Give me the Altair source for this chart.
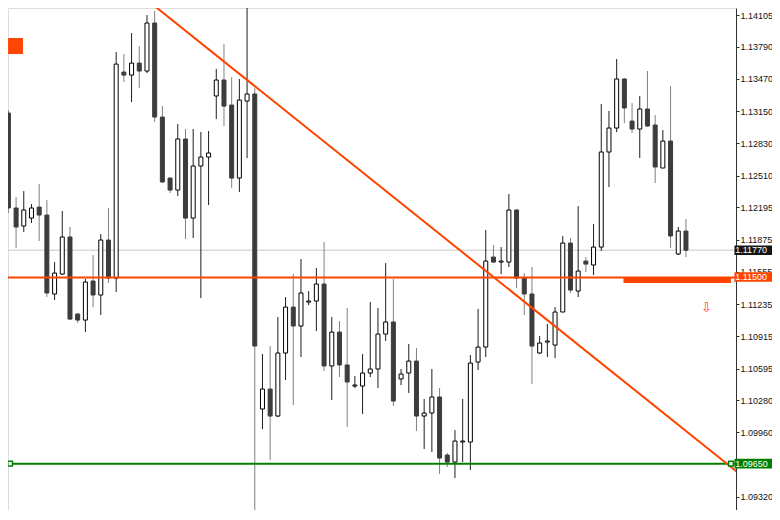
import altair as alt
import pandas as pd

# ---- candle data (price values) ----
highs = [1.13162, 1.12298, 1.12357, 1.12228, 1.12427, 1.12268, 1.11652, 1.12159, 1.12000, 1.11146,
         1.11484, 1.11722, 1.11930, 1.12189, 1.13738, 1.13718, 1.13926, 1.13797, 1.14105, 1.14145,
         1.13201, 1.12496, 1.13023, 1.12973, 1.12973, 1.12943, 1.12953, 1.13569, 1.13817, 1.13489,
         1.13470, 1.14284, 1.13380, 1.10739, 1.10818, 1.11106, 1.11305, 1.11533, 1.11682, 1.11364,
         1.11593, 1.11851, 1.11106, 1.11066, 1.11196, 1.10520, 1.10739, 1.11255, 1.11196, 1.11642,
         1.11484, 1.10590, 1.10838, 1.10798, 1.10292, 1.10590, 1.10401, 1.09756, 1.09984, 1.10292,
         1.10729, 1.11186, 1.11970, 1.11821, 1.11801, 1.12328, 1.12179, 1.11543, 1.11603, 1.10918,
         1.11037, 1.11205, 1.11911, 1.11891, 1.12208, 1.11702, 1.12030, 1.13221, 1.13152, 1.13668,
         1.13479, 1.13231, 1.13301, 1.13549, 1.13112, 1.12963, 1.13400, 1.12000, 1.12079]
opens = [1.13132, 1.12189, 1.12010, 1.12089, 1.12198, 1.12119, 1.11335, 1.11533, 1.11901, 1.11136,
         1.11076, 1.11464, 1.11325, 1.11871, 1.11493, 1.13539, 1.13509, 1.13628, 1.13549, 1.14026,
         1.13092, 1.12486, 1.12367, 1.12874, 1.12089, 1.12606, 1.12695, 1.13301, 1.13460, 1.13211,
         1.12486, 1.13251, 1.13321, 1.10193, 1.10391, 1.10123, 1.10749, 1.11205, 1.11017, 1.11255,
         1.11265, 1.11434, 1.10620, 1.10957, 1.10630, 1.10421, 1.10421, 1.10550, 1.10590, 1.10937,
         1.11057, 1.10491, 1.10550, 1.10669, 1.10123, 1.10153, 1.10312, 1.09736, 1.09666, 1.09865,
         1.09865, 1.10659, 1.10808, 1.11702, 1.11652, 1.11652, 1.12169, 1.11493, 1.11335, 1.10749,
         1.10858, 1.10828, 1.11156, 1.11841, 1.11364, 1.11662, 1.11623, 1.11801, 1.12745, 1.12983,
         1.13470, 1.13052, 1.12973, 1.13172, 1.13013, 1.12586, 1.12854, 1.11732, 1.11960]
closes = [1.12189, 1.12000, 1.12169, 1.12189, 1.12119, 1.11345, 1.11543, 1.11901, 1.11086, 1.11076,
          1.11454, 1.11325, 1.11871, 1.11493, 1.13618, 1.13509, 1.13628, 1.13549, 1.14026, 1.13092,
          1.12447, 1.12367, 1.12874, 1.12089, 1.12606, 1.12695, 1.12735, 1.13460, 1.13201, 1.12486,
          1.13261, 1.13321, 1.10818, 1.10391, 1.10123, 1.10749, 1.11205, 1.11017, 1.11345, 1.11265,
          1.11434, 1.10620, 1.10957, 1.10630, 1.10461, 1.10431, 1.10550, 1.10590, 1.10937, 1.11057,
          1.10272, 1.10540, 1.10669, 1.10123, 1.10153, 1.10312, 1.09706, 1.09666, 1.09875, 1.09875,
          1.10649, 1.10808, 1.11662, 1.11652, 1.11662, 1.12169, 1.11493, 1.11335, 1.10818, 1.10848,
          1.10868, 1.11156, 1.11841, 1.11374, 1.11563, 1.11632, 1.11801, 1.12745, 1.12983, 1.13470,
          1.13182, 1.12973, 1.13172, 1.13003, 1.12596, 1.12854, 1.11911, 1.11960, 1.11770]
lows = [1.12139, 1.11791, 1.11950, 1.12040, 1.11861, 1.11305, 1.11275, 1.11523, 1.11076, 1.11047,
        1.10957, 1.11205, 1.11126, 1.11444, 1.11354, 1.13440, 1.13241, 1.13380, 1.13529, 1.13043,
        1.12437, 1.12338, 1.12308, 1.11881, 1.11891, 1.11295, 1.12218, 1.13072, 1.13003, 1.12387,
        1.12347, 1.12685, 1.09100, 1.09994, 1.09686, 1.10113, 1.10481, 1.10232, 1.10709, 1.11225,
        1.10967, 1.10570, 1.10282, 1.10510, 1.10014, 1.10401, 1.10143, 1.10510, 1.10401, 1.10868,
        1.10222, 1.10431, 1.10352, 1.09974, 1.09795, 1.09766, 1.09547, 1.09617, 1.09507, 1.09666,
        1.09587, 1.10580, 1.10709, 1.11642, 1.11533, 1.11603, 1.11394, 1.11126, 1.10441, 1.10739,
        1.10709, 1.10699, 1.11156, 1.11345, 1.11305, 1.11553, 1.11523, 1.11762, 1.12397, 1.12943,
        1.13033, 1.12933, 1.12685, 1.12993, 1.12437, 1.12586, 1.11791, 1.11722, 1.11702]

axis_ticks = [1.14105, 1.13790, 1.13470, 1.13150, 1.12830, 1.12510, 1.12195, 1.11875,
              1.11555, 1.11235, 1.10915, 1.10595, 1.10280, 1.09960, 1.09320]
# visible window of the chart (the page margin hides the first 8 px)
price_domain = [1.09190, 1.14175]
index_domain = [0.60, 93.85]

current_price = 1.11770
resistance = 1.11500
support = 1.09650
trend_index = [17.0, 95.0]
trend_price = [1.14316, 1.09547]
seg_index = [79.89, 93.85]
seg_price = 1.11474
marker_index = [0.22, 93.85]
flag_index = [-0.04, 1.89]
flag_price = [1.13877, 1.13718]
arrow_index = 90.65
arrow_price = 1.11196

label_texts = ["1.11770", "1.11500", "1.09650"]
label_prices = [1.11770, 1.11500, 1.09650]
label_p0 = [1.11816, 1.11550, 1.09700]
label_p1 = [1.11722, 1.11456, 1.09603]
label_colors = ["#161616", "#ff4500", "#008000"]
label_box_index = [94.30, 99.6]
label_text_index = 94.40

# ---- tables ----
df = pd.DataFrame({"i": list(range(len(opens))), "open": opens, "high": highs,
                   "low": lows, "close": closes})
df["dir"] = ["up" if c >= o else "down" for o, c in zip(opens, closes)]
df["btop"] = df[["open", "close"]].max(axis=1)
df["bbot"] = df[["open", "close"]].min(axis=1)

xs = alt.Scale(domain=index_domain, nice=False, zero=False)
ys = alt.Scale(domain=price_domain, nice=False, zero=False)
LABEL_FONT = "Liberation Sans"
LABEL_SIZE = 9
yaxis = alt.Axis(orient="right", values=axis_ticks, format=".5f", title=None, grid=False,
                 tickSize=3, labelPadding=1, labelFont=LABEL_FONT, labelFontSize=LABEL_SIZE,
                 labelColor="#111111", tickColor="#303030", domainColor="#303030",
                 labelOverlap=False, labelFlush=False, zindex=0)


def X(f):
    return alt.X(f, type="quantitative", scale=xs, axis=None)


def Y(f):
    return alt.Y(f, type="quantitative", scale=ys, axis=yaxis)


cur_line = alt.Chart(pd.DataFrame({"p": [current_price]})).mark_rule(
    color="#c8c8c8", strokeWidth=1).encode(y=Y("p"))

wicks = alt.Chart(df).mark_rule(strokeWidth=1, clip=True).encode(
    x=X("i"), y=Y("high"), y2="low",
    color=alt.Color("dir:N", scale=alt.Scale(domain=["up", "down"], range=["#1e1e1e", "#808080"]),
                    legend=None))

bodies = alt.Chart(df).mark_bar(size=4, strokeWidth=1, clip=True).encode(
    x=X("i"), y=Y("btop"), y2="bbot",
    fill=alt.Fill("dir:N", scale=alt.Scale(domain=["up", "down"], range=["#ffffff", "#3c3c3c"]),
                  legend=None),
    stroke=alt.Stroke("dir:N", scale=alt.Scale(domain=["up", "down"], range=["#000000", "#3c3c3c"]),
                      legend=None))

res_line = alt.Chart(pd.DataFrame({"p": [resistance]})).mark_rule(
    color="#ff4500", strokeWidth=2).encode(y=Y("p"))
sup_line = alt.Chart(pd.DataFrame({"p": [support]})).mark_rule(
    color="#008000", strokeWidth=2).encode(y=Y("p"))

seg = alt.Chart(pd.DataFrame({"i0": [seg_index[0]], "i1": [seg_index[1]], "p": [seg_price]})).mark_rule(
    color="#ff4500", strokeWidth=6).encode(x=X("i0"), x2="i1", y=Y("p"))

trend = alt.Chart(pd.DataFrame({"i": trend_index, "p": trend_price})).mark_line(
    color="#ff4500", strokeWidth=2, clip=True).encode(x=X("i"), y=Y("p"))

markers = alt.Chart(pd.DataFrame({"i": marker_index, "p": [support, support]})).mark_square(
    size=22, fill="white", stroke="#008000", strokeWidth=1.5, opacity=1).encode(x=X("i"), y=Y("p"))

flag = alt.Chart(pd.DataFrame({"i0": [flag_index[0]], "i1": [flag_index[1]],
                               "p0": [flag_price[0]], "p1": [flag_price[1]]})).mark_rect(
    color="#ff4500", clip=True).encode(x=X("i0"), x2="i1", y=Y("p0"), y2="p1")

arrow = alt.Chart(pd.DataFrame({"i": [arrow_index], "p": [arrow_price], "t": ["\u21e9"]})).mark_text(
    font="DejaVu Sans", fontSize=13, color="#ff3b3b", align="center", baseline="middle").encode(
    x=X("i"), y=Y("p"), text="t")

labels = pd.DataFrame({"t": label_texts, "p": label_prices, "p0": label_p0, "p1": label_p1,
                       "bg": label_colors, "x0": [label_box_index[0]] * 3,
                       "x1": [label_box_index[1]] * 3, "tx": [label_text_index] * 3})
label_boxes = alt.Chart(labels).mark_rect().encode(
    x=X("x0"), x2="x1", y=Y("p0"), y2="p1", color=alt.Color("bg:N", scale=None))
label_text = alt.Chart(labels).mark_text(
    align="left", baseline="middle", font=LABEL_FONT, fontSize=LABEL_SIZE, color="white").encode(
    x=X("tx"), y=Y("p"), text="t")

chart = alt.layer(cur_line, wicks, bodies, res_line, sup_line, seg, trend, markers, flag, arrow,
                  label_boxes, label_text).properties(
    width=728, height=502,
    padding={"left": 0, "top": 0, "right": 36, "bottom": 0},
    autosize=alt.AutoSizeParams(type="none"),
).configure_view(strokeWidth=0).configure(background="white")

chart.save("out.html", embed_options={"renderer": "svg", "actions": False})
